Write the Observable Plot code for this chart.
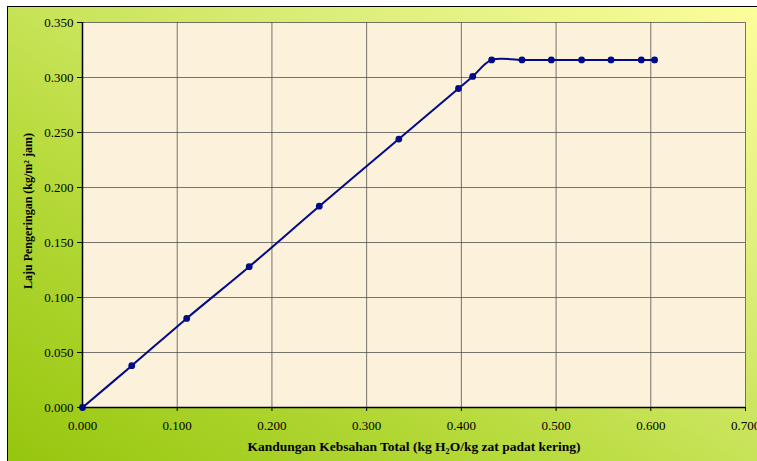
<!DOCTYPE html>
<html>
<head>
<meta charset="utf-8">
<script src="https://cdn.jsdelivr.net/npm/d3@7"></script>
<script src="https://cdn.jsdelivr.net/npm/@observablehq/plot@0.6"></script>
<style>
  html, body { margin: 0; padding: 0; width: 757px; height: 461px; overflow: hidden; background: #fff; }
  #chart {
    position: absolute; left: 0; top: 0; width: 757px; height: 461px;
  }
  #chart svg, #chart svg text {
    font-family: "Liberation Serif", "Times New Roman", serif !important;
  }
  #panel {
    position: absolute; left: 7px; top: 6px; width: 780px; height: 480px;
    border: 1.5px solid #000;
    background: linear-gradient(to top right, #94c40a 0%, #b6da3a 35%, #dcee7a 70%, #fffe9e 100%);
  }
</style>
</head>
<body>
<div id="panel"></div>
<div id="chart"></div>
<script>
// Drying rate vs. total moisture content
const moisture = [0.000, 0.052, 0.110, 0.176, 0.250, 0.334, 0.397, 0.412, 0.432, 0.464, 0.495, 0.527, 0.558, 0.590, 0.604];
const rate     = [0.000, 0.038, 0.081, 0.128, 0.183, 0.244, 0.290, 0.301, 0.316, 0.316, 0.316, 0.316, 0.316, 0.316, 0.316];

const xTicks = [0, 0.1, 0.2, 0.3, 0.4, 0.5, 0.6, 0.7];
const yTicks = [0, 0.05, 0.10, 0.15, 0.20, 0.25, 0.30, 0.35];

const xTitle = "Kandungan Kebsahan Total (kg H\u2082O/kg zat padat kering)";
const yTitle = "Laju Pengeringan (kg/m\u00B2 jam)";

const points = moisture.map((m, i) => ({m, r: rate[i]}));
const fmt = d3.format(".3f");

const chart = Plot.plot({
  width: 757,
  height: 461,
  marginLeft: 82,
  marginTop: 22,
  marginRight: 12,
  marginBottom: 54,
  style: "background: transparent; font-family: 'Liberation Serif', 'Times New Roman', serif; font-size: 13px; color: #000;",
  x: { domain: [0, 0.7], ticks: xTicks, tickFormat: fmt, label: null },
  y: { domain: [0, 0.35], ticks: yTicks, tickFormat: fmt, label: null },
  marks: [
    Plot.frame({ fill: "#fcf1da", stroke: null }),
    Plot.gridX(xTicks, { stroke: "#4a4a4a", strokeOpacity: 0.75, strokeWidth: 1 }),
    Plot.gridY(yTicks, { stroke: "#4a4a4a", strokeOpacity: 0.75, strokeWidth: 1 }),
    Plot.axisX(xTicks, { tickFormat: fmt, tickSize: 4, tickPadding: 9, stroke: "#000", fontSize: 13 }),
    Plot.axisY(yTicks, { tickFormat: fmt, tickSize: 5, tickPadding: 4, stroke: "#000", fontSize: 13 }),
    Plot.ruleX([0], { stroke: "#000", strokeWidth: 1.5 }),
    Plot.ruleY([0], { stroke: "#000", strokeWidth: 1.5 }),
    Plot.line(points, { x: "m", y: "r", curve: "catmull-rom", stroke: "#000a8a", strokeWidth: 2 }),
    Plot.dot(points, { x: "m", y: "r", r: 3.4, fill: "#000a8a", stroke: null }),
    Plot.text([xTitle], {
      frameAnchor: "bottom", lineAnchor: "middle", textAnchor: "middle", dy: 39,
      fontWeight: "bold", fontSize: 13.5, fill: "#000"
    }),
    Plot.text([yTitle], {
      frameAnchor: "left", lineAnchor: "middle", textAnchor: "middle", dx: -54, dy: -4,
      rotate: -90, fontWeight: "bold", fontSize: 12, fill: "#000"
    })
  ]
});

document.getElementById("chart").appendChild(chart);
</script>
</body>
</html>
